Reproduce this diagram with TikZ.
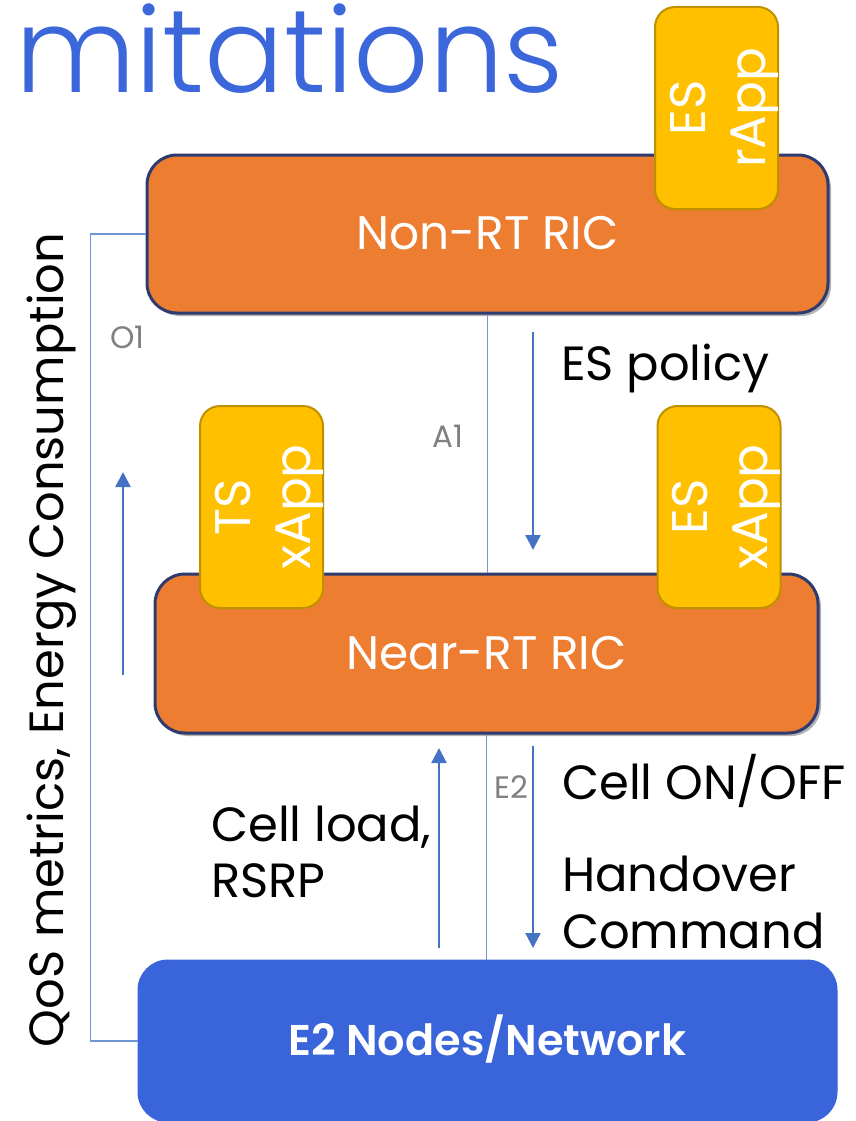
\documentclass[tikz,border=0pt]{standalone}
\usepackage{fontspec}
\setmainfont{Poppins}
\IfFontExistsTF{Poppins Light}{\newfontfamily\titlefont{Poppins Light}\newcommand\thinit{}}{\newfontfamily\titlefont{Poppins}\newcommand\thinit{\special{pdf:literal direct 2 Tr 1 1 1 RG 6 w 1 j}}}
\IfFontExistsTF{Poppins SemiBold}{\newfontfamily\semibold{Poppins SemiBold}}{\newcommand\semibold{\bfseries}}
\usetikzlibrary{arrows.meta,shadows}
\definecolor{ricorange}{RGB}{237,125,49}
\definecolor{ricborder}{RGB}{47,58,110}
\definecolor{appyellow}{RGB}{255,192,0}
\definecolor{appborder}{RGB}{191,144,0}
\definecolor{netblue}{RGB}{58,100,218}
\definecolor{titleblue}{RGB}{59,103,219}
\definecolor{ifline}{RGB}{110,150,215}
\definecolor{flowblue}{RGB}{68,114,196}
\definecolor{labelgray}{RGB}{128,128,128}
\begin{document}
\begin{tikzpicture}[x=1pt,y=-1pt,
  ricbox/.style={draw=ricborder, line width=3pt, fill=ricorange, rounded corners=30pt,
    drop shadow={shadow xshift=3pt, shadow yshift=-3pt, opacity=0.3, fill=black}},
  rictext/.style={text=white, inner sep=0pt, anchor=base, font=\fontsize{47}{56}\selectfont},
  appbox/.style={rotate=90, draw=appborder, line width=2pt, fill=appyellow, rounded corners=20pt,
    minimum width=202pt, minimum height=119pt, inner sep=0pt, text=white, align=center,
    font=\fontsize{50}{60}\selectfont},
  e2box/.style={draw=netblue, line width=1pt, fill=netblue, rounded corners=30pt},
  e2text/.style={text=white, inner sep=0pt, anchor=base, font=\semibold\fontsize{43}{50}\selectfont},
  iface/.style={draw=ifline, line width=1.5pt},
  iflabel/.style={text=labelgray, inner sep=0pt, anchor=base west, font=\fontsize{31}{36}\selectfont},
  flow/.style={draw=flowblue, line width=2.3pt, -{Triangle[width=15pt,length=15pt]}},
  txt/.style={text=black, inner sep=0pt, anchor=base west, font=\fontsize{48}{56}\selectfont}
]
\useasboundingbox (0,0) rectangle (856,1121);
\begin{scope}
\clip (0,0) rectangle (856,1121);
% title
\node[anchor=base west, text=titleblue, inner sep=0pt, font=\titlefont\fontsize{118}{126}\selectfont] (title) at (15,93) {\thinit mitations};

% boxes
\node[ricbox, minimum width=681pt, minimum height=158pt] (nonrt) at (487.5,234) {};
\node[rictext] (nonrtlabel) at (487.5,249) {Non-RT RIC};
\node[appbox] (rapp) at (716.5,108) {\rule{0pt}{50pt}ES\\rApp};

\node[ricbox, minimum width=663pt, minimum height=159pt] (nearrt) at (486.5,653.5) {};
\node[rictext] (nearrtlabel) at (486.5,669) {Near-RT RIC};
\node[appbox] (tsx) at (261.5,507) {\rule{0pt}{50pt}TS\\xApp};
\node[appbox] (esx) at (719,507) {\rule{0pt}{50pt}ES\\xApp};

\node[e2box, minimum width=699pt, minimum height=162pt] (e2) at (487.5,1041) {};
\node[e2text] (e2label) at (487.5,1055) {E2 Nodes/Network};

% interfaces
\draw[iface] (nonrt.west) -- ++(-55,0) |- (e2.west);
\draw[iface] (nonrt.south) -- (nonrt.south |- nearrt.north);
\draw[iface] (nearrt.south) -- (nearrt.south |- e2.north);
\node[iflabel] (o1) at (110,348) {O1};
\node[iflabel] (a1) at (432,447) {A1};
\node[iflabel] (e2if) at (494,798) {E2};

% flows
\coordinate (qosa) at (123,675);
\coordinate (qosb) at (123,472);
\draw[flow] (qosa) -- (qosb);
\coordinate (pola) at (533,332);
\coordinate (polb) at (533,550);
\draw[flow] (pola) -- (polb);
\coordinate (upa) at (439,948);
\coordinate (upb) at (439,748);
\draw[flow] (upa) -- (upb);
\coordinate (dna) at (533,746);
\coordinate (dnb) at (533,948);
\draw[flow] (dna) -- (dnb);

% texts
\node[txt] (espol) at (561,380) {ES policy};
\node[txt] (cellon) at (562,799) {Cell ON/OFF};
\node[txt] (ho1) at (562,891) {Handover};
\node[txt] (ho2) at (562,948) {Command};
\node[txt] (cl1) at (211,841) {Cell load,};
\node[txt] (cl2) at (211,897) {RSRP};
\node[txt, rotate=90, anchor=base] (qos) at (63,640) {QoS metrics, Energy Consumption};
\end{scope}
\end{tikzpicture}
\end{document}
